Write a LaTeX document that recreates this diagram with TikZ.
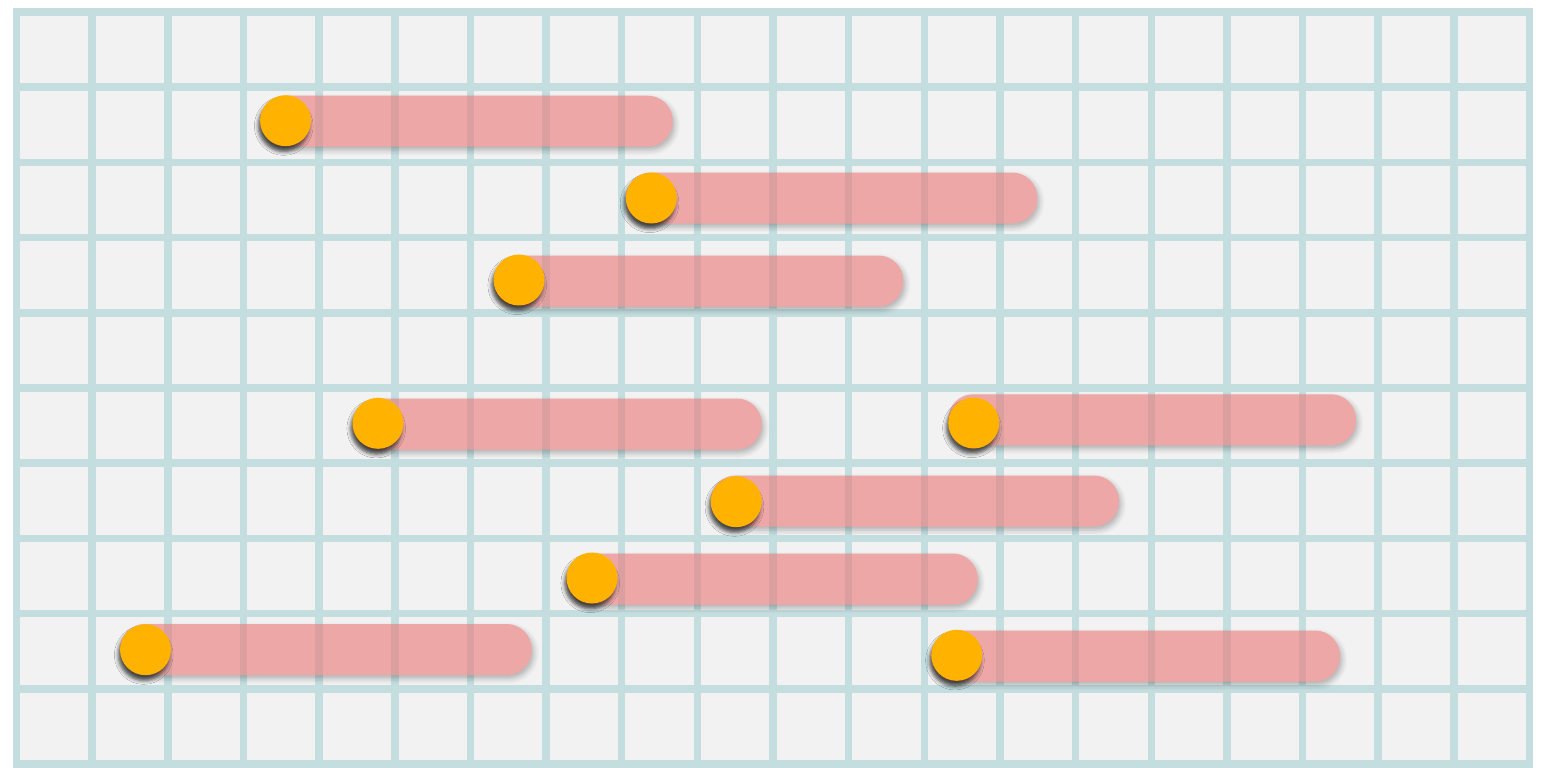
\documentclass[tikz,border=0pt]{standalone}
\usepackage{tikz}
\usetikzlibrary{shadows.blur}
\definecolor{gridbg}{HTML}{F2F2F2}
\definecolor{gridteal}{HTML}{C4DEE0}
\definecolor{barpink}{RGB}{236,118,117}
\definecolor{dotorange}{HTML}{FFB300}
\tikzset{
  gridline/.style={draw=gridteal,line width=0.15cm,line cap=rect},
  pillfill/.style={fill=barpink,rounded corners=0.5cm,
    blur shadow={shadow xshift=1.2pt,shadow yshift=-2pt,shadow blur radius=3pt,shadow opacity=45}},
  dotfill/.style={fill=dotorange,
    blur shadow={shadow xshift=-1pt,shadow yshift=-3pt,shadow blur radius=2.2pt,shadow opacity=65}}
}
% #1 dot x, #2 dot y, #3 bar y, #4 bar right end (all in px)
\newcommand{\pillbar}[4]{%
  \begin{scope}[transparency group,opacity=0.6]
    \fill[pillfill] (#1-25.5,#3-25.5) rectangle (#4,#3+25.5);
  \end{scope}
  \fill[dotfill] (#1,#2) circle[radius=0.51cm];
}
\begin{document}
\begin{tikzpicture}[x=0.02cm,y=-0.02cm]
\useasboundingbox (0,0) rectangle (1550,767);
\fill[gridbg] (16.5,12) rectangle (1529.5,764);
\foreach \i in {0,...,20}
  \draw[gridline] (16.5+75.65*\i,12) -- (16.5+75.65*\i,764);
\foreach \j in {0,...,10}
  \draw[gridline] (16.5,12+75.2*\j) -- (1529.5,12+75.2*\j);
\pillbar{285.5}{120.7}{121.2}{672.7}
\pillbar{651.3}{198}{198}{1037.3}
\pillbar{519}{280}{281}{903.3}
\pillbar{378}{423.3}{424}{761.7}
\pillbar{973.7}{423}{419.8}{1356}
\pillbar{736.2}{501.7}{501}{1119}
\pillbar{592}{578}{579}{977.7}
\pillbar{145.5}{649.7}{649.5}{531.7}
\pillbar{956.7}{655.3}{656}{1340}
\end{tikzpicture}
\end{document}
